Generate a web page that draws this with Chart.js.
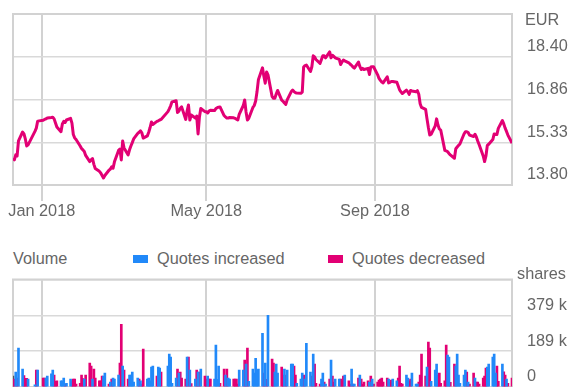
<!DOCTYPE html>
<html>
<head>
<meta charset="utf-8">
<title>Quote chart</title>
<script src="https://cdn.jsdelivr.net/npm/chart.js"></script>
<style>
  html, body { margin: 0; padding: 0; background: #fff; }
  #wrap { position: relative; width: 569px; height: 387px; overflow: hidden;
          font-family: Arial, "Liberation Sans", sans-serif; color: #666; }
  #price-box { position: absolute; left: 0; top: 0; width: 569px; height: 230px; }
  #volume-box { position: absolute; left: 0; top: 260px; width: 569px; height: 127px; }
  .legend { position: absolute; top: 248px; font-size: 16.3px; line-height: 20px; white-space: nowrap; }
  .swatch { position: absolute; top: 255px; width: 15px; height: 8px; }
</style>
</head>
<body>
<div id="wrap">
  <div id="price-box"><canvas id="chart-price"></canvas></div>
  <span class="legend" style="left:13px">Volume</span>
  <span class="swatch" style="left:133px; background:#2189f9"></span>
  <span class="legend" style="left:157px">Quotes increased</span>
  <span class="swatch" style="left:328px; background:#e20074"></span>
  <span class="legend" style="left:352px">Quotes decreased</span>
  <div id="volume-box"><canvas id="chart-volume"></canvas></div>
</div>
<script>
const MAGENTA = '#e20074';
const BLUE = '#2189f9';
const GREY_BAR = '#555555';
const TEXT = '#666666';
const GRID = '#d2d2d2';
const FONT = 'Arial, "Liberation Sans", sans-serif';
const FONT_SIZE = 16.3;

// trading calendar
const RANGE_START = '2017-12-11';
const RANGE_END = '2018-12-10';
const HOLIDAYS = ['2017-12-25', '2017-12-26', '2018-01-01', '2018-03-30', '2018-04-02'];

const monthTickDates = ['2018-01-01', '2018-05-01', '2018-09-01'];
const monthLabels = ['Jan 2018', 'May 2018', 'Sep 2018'];

const priceTicks = [13.80, 15.33, 16.86, 18.40];
const priceTop = 19.93;
const volumeTicks = [0, 189, 379];
const volumeTop = 568;

// closing price in EUR, one row per week
const closes = [
  14.76, 14.70, 14.88, 14.84, 15.38,
  15.70, 15.63, 15.45, 15.20, 15.24,
  15.72, 15.84, 16.09,
  16.12, 16.15, 16.17, 16.20,
  16.22, 16.23, 16.17, 16.02, 15.88,
  15.71, 15.99, 16.08, 16.04, 16.13,
  16.19, 16.02, 15.61, 15.49, 15.43,
  15.20, 15.11, 15.06, 15.00, 14.86,
  14.64, 14.70, 14.75, 14.54, 14.39,
  14.29, 14.23, 14.14, 14.05, 14.14,
  14.33, 14.37, 14.45, 14.40, 14.63,
  15.04, 15.09, 14.70, 15.38, 15.13,
  14.88, 15.06, 15.20, 15.32, 15.45,
  15.65, 15.69, 15.74, 15.67, 15.48,
  15.56, 15.69, 15.86, 16.06, 15.97,
  16.08, 16.10, 16.13, 16.15,
  16.43, 16.53, 16.64, 16.78,
  16.82, 16.40, 16.45, 16.55, 16.60,
  16.15, 16.45, 16.67, 16.13, 16.31,
  16.20, 16.27, 15.63, 16.24, 16.54,
  16.43, 16.43, 16.38, 16.45, 16.48,
  16.47, 16.54, 16.57, 16.59, 16.60,
  16.29, 16.24, 16.20, 16.20, 16.22,
  16.21, 16.19, 16.16, 16.13, 16.33,
  16.65, 16.85, 16.42, 16.13, 16.19,
  16.58, 16.65, 16.81, 17.14, 17.57,
  18.00, 17.70, 17.45, 17.85, 17.75,
  16.97, 16.91, 16.91, 17.06, 17.19,
  16.84, 16.80, 16.74, 16.69, 16.85,
  17.15, 17.20, 17.15, 17.11, 17.10,
  17.09, 17.13, 18.03, 18.08, 18.10,
  17.87, 18.04, 18.43, 18.39, 18.30,
  18.16, 18.30, 18.43, 18.43, 18.36,
  18.57, 18.36, 18.45, 18.41, 18.36,
  18.30, 18.12, 18.21, 18.28, 18.25,
  18.18, 18.13, 18.09, 18.03, 17.99,
  18.21, 18.05, 17.94, 17.98, 17.94,
  17.98, 17.76, 18.03, 18.04, 18.04,
  17.75, 17.62, 17.55, 17.49, 17.46,
  17.68, 17.46, 17.48, 17.51, 17.51,
  17.48, 17.35, 17.21, 17.14, 17.08,
  17.20, 17.14, 17.05, 17.19, 17.17,
  17.14, 17.18, 17.05, 16.71, 16.58,
  16.51, 16.17, 15.86, 15.59, 15.62,
  15.92, 16.17, 15.95, 15.81, 15.77,
  15.04, 15.02, 15.00, 14.93, 14.88,
  14.76, 15.10, 15.16, 15.22, 15.27,
  15.63, 15.71, 15.71, 15.68, 15.59,
  15.54, 15.62, 15.52, 15.38, 15.25,
  14.84, 14.64, 14.84, 15.22, 15.26,
  15.43, 15.63, 15.62, 15.61, 15.83,
  16.11, 15.99, 15.84, 15.72, 15.59,
  15.30,
];

// traded volume, thousand shares
const volumes = [
  58, 42, 79, 47, 205,
  95, 61, 46, 46, 42,
  12, 89, 89,
  47, 47, 47, 58,
  70, 89, 63, 30, 32,
  32, 32, 47, 15, 20,
  42, 32, 42, 42, 15,
  20, 63, 45, 42, 63,
  126, 110, 42, 95, 47,
  32, 32, 58, 58, 74,
  15, 26, 42, 47, 42,
  63, 126, 331, 110, 89,
  42, 63, 63, 79, 26,
  47, 42, 32, 15, 200,
  42, 47, 32, 105, 110,
  58, 105, 100, 79,
  110, 174, 158, 20,
  47, 95, 74, 79, 47,
  42, 158, 158, 89, 18,
  42, 89, 79, 79, 95,
  58, 42, 58, 42, 42,
  42, 221, 40, 110, 20,
  95, 63, 95, 47, 42,
  42, 42, 42, 15, 89,
  89, 142, 121, 205, 30,
  95, 74, 152, 89, 95,
  284, 74, 126, 40, 379,
  147, 126, 79, 121, 74,
  105, 63, 95, 63, 89,
  121, 121, 110, 63, 20,
  42, 74, 63, 42, 231,
  79, 58, 174, 121, 20,
  16, 42, 74, 26, 15,
  42, 142, 58, 26, 42,
  42, 42, 32, 58, 63,
  32, 16, 95, 15, 15,
  47, 63, 42, 16, 26,
  32, 26, 58, 42, 15,
  26, 37, 42, 47, 26,
  47, 42, 26, 37, 42,
  32, 47, 110, 20, 15,
  63, 47, 32, 42, 74,
  16, 16, 26, 63, 174,
  58, 105, 237, 205, 30,
  89, 121, 63, 74, 20,
  32, 221, 168, 158, 25,
  121, 110, 174, 63, 20,
  63, 89, 79, 26, 15,
  74, 47, 26, 26, 15,
  47, 58, 100, 105, 121,
  158, 174, 74, 110, 30,
  121, 80, 63, 42, 20,
  47,
];

// u = quote up on the day, d = down, n = no previous quote
const volumeTrend = [
  'ndudu', 'udddu', 'udu', 'dduu', 'uuddd', 'uuudu', 'udddd', 'dddud', 'ddudd',
  'ddduu', 'duduu', 'uddud', 'duuuu', 'ududd', 'uuuuu', 'duud', 'uuuu', 'ududd',
  'dudud', 'ududu', 'ddudd', 'uuuud', 'duduu', 'ddddu', 'ududu', 'uuuuu', 'ududu',
  'dduuu', 'ddudu', 'uuddu', 'uuduu', 'ududd', 'duudu', 'duddu', 'udddu', 'ddudu',
  'duddd', 'dudud', 'ddddd', 'duddu', 'udddd', 'uuddu', 'uuddd', 'duddu', 'uuddd',
  'dduud', 'duuuu', 'uudud', 'duddd', 'ddduu', 'uuudd', 'uddud', 'd',
].join('');

function dayNumber(iso) {
  const [y, m, d] = iso.split('-').map(Number);
  return (Date.UTC(y, m - 1, d) - Date.UTC(2018, 0, 1)) / 86400000;
}

function tradingDays(from, to) {
  const skip = HOLIDAYS.map(dayNumber);
  const days = [];
  for (let t = dayNumber(from); t <= dayNumber(to); t++) {
    const weekday = new Date(Date.UTC(2018, 0, 1 + t)).getUTCDay();
    if (weekday === 0 || weekday === 6 || skip.includes(t)) continue;
    days.push(t);
  }
  return days;
}

const days = tradingDays(RANGE_START, RANGE_END);
const monthTicks = monthTickDates.map(dayNumber);

const priceData = days.map((x, i) => ({ x, y: closes[i] }));
const volumeData = (trend) => days
  .map((x, i) => (volumeTrend[i] === trend ? { x, y: volumes[i] } : null))
  .filter(Boolean);

Chart.defaults.font.family = FONT;
Chart.defaults.font.size = FONT_SIZE;
Chart.defaults.color = TEXT;

// grey border round the plot area
const frame = {
  id: 'frame',
  beforeDatasetsDraw(chart) {
    const { ctx, chartArea: a } = chart;
    ctx.save();
    ctx.strokeStyle = GRID;
    ctx.lineWidth = 2;
    ctx.strokeRect(a.left, a.top, a.right - a.left, a.bottom - a.top);
    ctx.restore();
  },
};

// unit written next to the right-hand axis
const unitLabel = {
  id: 'unitLabel',
  afterDraw(chart, args, opts) {
    const { ctx, chartArea: a } = chart;
    ctx.save();
    ctx.font = `${FONT_SIZE}px ${FONT}`;
    ctx.fillStyle = TEXT;
    ctx.textAlign = 'left';
    ctx.textBaseline = 'alphabetic';
    ctx.fillText(opts.text, a.right + opts.dx, a.top + opts.dy);
    ctx.restore();
  },
};

function timeAxis(showLabels) {
  return {
    type: 'linear',
    offset: false,
    min: dayNumber(RANGE_START),
    max: dayNumber(RANGE_END),
    afterBuildTicks: (scale) => { scale.ticks = monthTicks.map((value) => ({ value })); },
    afterFit: (scale) => { scale.height = showLabels ? 45 : 0; },
    border: { display: false },
    grid: { offset: false, color: GRID, lineWidth: 2, drawTicks: showLabels, tickLength: 16 },
    ticks: {
      display: showLabels,
      padding: 1,
      maxRotation: 0,
      autoSkip: false,
      callback: (value, i) => monthLabels[i],
    },
  };
}

function valueAxis(min, max, ticks, format) {
  return {
    type: 'linear',
    position: 'right',
    min,
    max,
    afterBuildTicks: (scale) => { scale.ticks = [...ticks, max].map((value) => ({ value })); },
    afterFit: (scale) => {
      // labels sit above their lines, so they need no room past the plot
      scale.width = 57;
      scale.paddingTop = 0;
      scale.paddingBottom = 0;
    },
    border: { display: false },
    grid: { color: '#d9d9d9', lineWidth: 1.5, drawTicks: false },
    ticks: {
      padding: 15,
      labelOffset: -10,
      callback: (value) => (value === max ? '' : format(value)),
    },
  };
}

new Chart(document.getElementById('chart-price'), {
  type: 'line',
  data: {
    datasets: [{
      data: priceData,
      borderColor: MAGENTA,
      borderWidth: 3,
      borderJoinStyle: 'round',
      pointRadius: 0,
      tension: 0,
    }],
  },
  options: {
    responsive: true,
    maintainAspectRatio: false,
    animation: false,
    layout: { padding: { left: 13, top: 14, right: 0, bottom: 0 } },
    plugins: {
      legend: { display: false },
      tooltip: { enabled: false },
      unitLabel: { text: 'EUR', dx: 13, dy: 11 },
    },
    scales: {
      x: timeAxis(true),
      y: valueAxis(priceTicks[0], priceTop, priceTicks, (v) => v.toFixed(2)),
    },
  },
  plugins: [frame, unitLabel],
});

new Chart(document.getElementById('chart-volume'), {
  type: 'bar',
  data: {
    datasets: [
      { label: 'Quotes increased', data: volumeData('u'), backgroundColor: BLUE },
      { label: 'Quotes decreased', data: volumeData('d'), backgroundColor: MAGENTA },
      { label: 'First quote', data: volumeData('n'), backgroundColor: GREY_BAR },
    ],
  },
  options: {
    responsive: true,
    maintainAspectRatio: false,
    animation: false,
    layout: { padding: { left: 13, top: 19.5, right: 0, bottom: 0 } },
    datasets: { bar: { grouped: false, barThickness: 2, borderWidth: 0 } },
    plugins: {
      legend: { display: false },
      tooltip: { enabled: false },
      unitLabel: { text: 'shares', dx: 5, dy: -1 },
    },
    scales: {
      x: timeAxis(false),
      y: valueAxis(0, volumeTop, volumeTicks, (v) => (v === 0 ? '0' : `${v} k`)),
    },
  },
  plugins: [frame, unitLabel],
});
</script>
</body>
</html>
